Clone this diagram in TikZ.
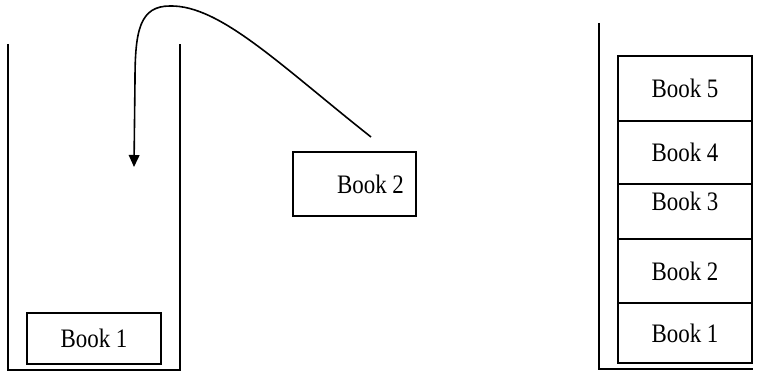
\documentclass[tikz,border=0pt]{standalone}
\usepackage{fontspec}
\setmainfont{Liberation Serif}[FakeStretch=0.86]
\usetikzlibrary{positioning}
\usetikzlibrary{arrows.meta}
\tikzstyle{book} = [rectangle, draw, line width=1.3pt, outer sep=0pt, inner sep=0pt, text centered, minimum width=100.5pt, font=\fontsize{20}{24}\selectfont]
\tikzstyle{wall} = [line width=1.3pt]
\tikzstyle{move} = [line width=1.2pt, -{Triangle[length=9pt, width=8pt]}]

\begin{document}
\begin{tikzpicture}[x=0.75pt, y=0.75pt, node distance=0pt]
    \useasboundingbox (0,0) rectangle (761,373);
    % left stack
    \draw [wall] (8,329) -- (8,3) -- (180,3) -- (180,329);
    \node (leftBook1) at (94,34.5) [book, minimum height=38.25pt] {Book 1};
    \node (leftBook2) at (354.5,189) [book, minimum width=92.25pt, minimum height=48pt] {\hspace*{24pt}Book 2};
    \coordinate (lift) at (371,236);
    \coordinate (peak) at (170,367);
    \coordinate (drop) at (134,206);
    \draw [move] (lift) .. controls (280,308) and (220,368) .. (peak)
        .. controls (140,367) and (135,343) .. (135,293) -- (drop);
    % right stack
    \draw [wall] (599,350) -- (599,4) -- (753,4);
    \node (rightBook1) at (685,40) [book, minimum height=45pt] {Book 1};
    \node (rightBook2) [above=of rightBook1, book, minimum height=48pt] {Book 2};
    \node (rightBook3) [above=of rightBook2, book, minimum height=41.25pt, text depth=15pt] {Book 3};
    \node (rightBook4) [above=of rightBook3, book, minimum height=47.25pt] {Book 4};
    \node (rightBook5) [above=of rightBook4, book, minimum height=48.75pt] {Book 5};
\end{tikzpicture}
\end{document}
